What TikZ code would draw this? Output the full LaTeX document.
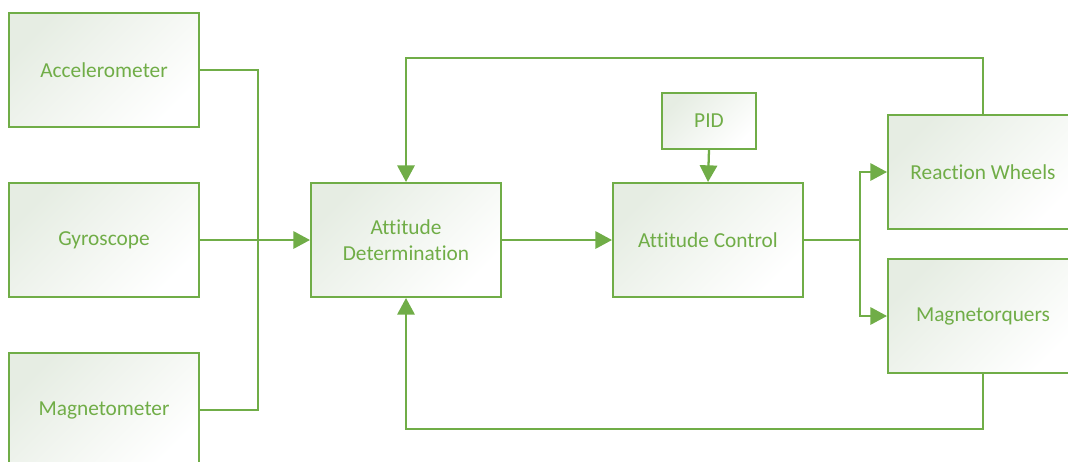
\documentclass[tikz,border=0pt]{standalone}
\usepackage{fontspec}
\setmainfont[RawFeature={-liga}]{Carlito}
\usetikzlibrary{arrows.meta}
\definecolor{gr}{RGB}{112,173,71}
\definecolor{boxfill}{RGB}{230,237,227}
\begin{document}
\begin{tikzpicture}[x=0.75pt,y=-0.75pt,
  blk/.style={draw=gr, line width=1.5pt, top color=boxfill, bottom color=white,
    shading angle=45, minimum width=142.5pt, minimum height=85.5pt, inner sep=0pt,
    text=gr, font=\fontsize{16}{19.5}\selectfont, align=center},
  conn/.style={draw=gr, line width=1.7pt},
  arr/.style={conn, -{Triangle[length=12.5pt,width=13pt]}}]
\useasboundingbox (0,0) rectangle (1068,461);
\node[blk] (acc) at (104,70) {Accelerometer};
\node[blk] (gyr) at (104,240) {Gyroscope};
\node[blk] (mag) at (104,410) {Magnetometer};
\node[blk] (ad) at (406,240) {Attitude\\Determination};
\node[blk] (ac) at (708,240) {Attitude Control};
\node[blk, minimum width=70.5pt, minimum height=42pt] (pid) at (709,121) {PID};
\node[blk] (rw) at (983,172) {Reaction Wheels};
\node[blk] (mq) at (983,316) {Magnetorquers};
\coordinate (j) at (258,240);
\coordinate (s) at (860,240);
\coordinate (top) at (0,58);
\coordinate (bot) at (0,429);
\draw[conn] (acc.east) -| (j);
\draw[conn] (mag.east) -| (j);
\draw[arr] (gyr.east) -- (ad.west);
\draw[arr] (ad.east) -- (ac.west);
\draw[arr] (pid.south) -- (ac.north);
\draw[conn] (ac.east) -- (s);
\draw[arr] (s) |- (rw.west);
\draw[arr] (s) |- (mq.west);
\draw[arr] (rw.north) -- (rw.north |- top) -| (ad.north);
\draw[arr] (mq.south) -- (mq.south |- bot) -| (ad.south);
\end{tikzpicture}
\end{document}
